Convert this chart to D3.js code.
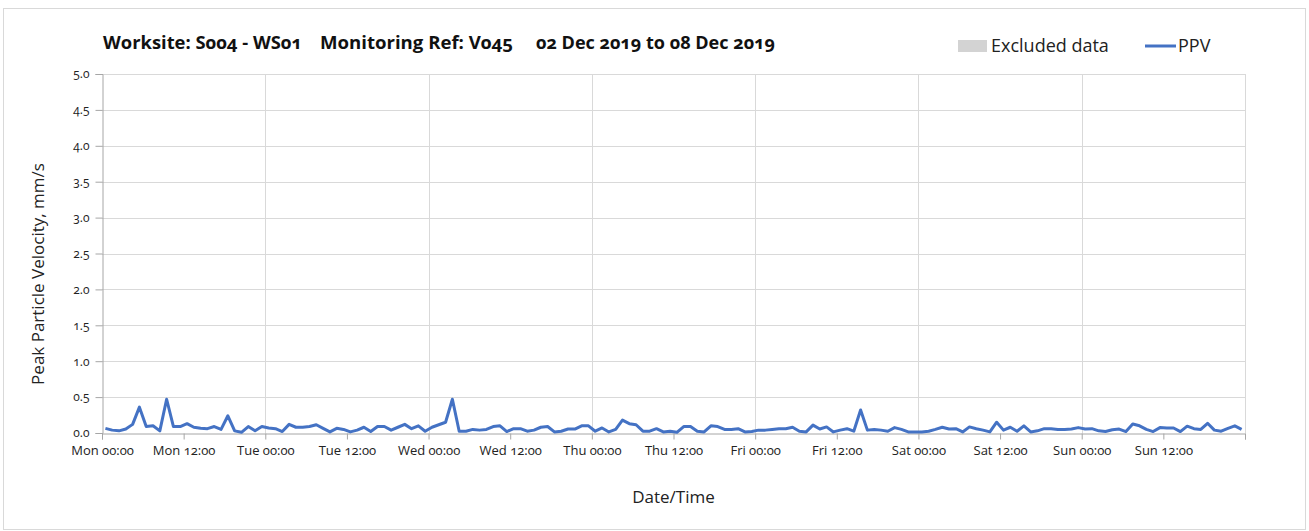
<!DOCTYPE html>
<html>
<head>
<meta charset="utf-8">
<script src="https://cdn.jsdelivr.net/npm/d3@7"></script>
<style>
  html, body { margin: 0; padding: 0; background: #fff; }
  svg { display: block; font-family: "Open Sans", "Noto Sans", sans-serif; }
  .onum { font-variant-numeric: oldstyle-nums; }
</style>
</head>
<body>
<svg id="chart" width="1309" height="531"></svg>
<script>
// ---------- data ----------
const titleParts = ["Worksite: S004 - WS01", "Monitoring Ref: V045", "02 Dec 2019 to 08 Dec 2019"];
const startTime = "2019-12-02T00:00:00Z";
const endTime = "2019-12-09T00:00:00Z";
const yTicks = [0, 0.5, 1, 1.5, 2, 2.5, 3, 3.5, 4, 4.5, 5];
const xTickLabels = ["Mon 00:00","Mon 12:00","Tue 00:00","Tue 12:00","Wed 00:00","Wed 12:00","Thu 00:00","Thu 12:00","Fri 00:00","Fri 12:00","Sat 00:00","Sat 12:00","Sun 00:00","Sun 12:00",""];
const legendLabels = ["Excluded data", "PPV"];
// hourly PPV readings (mm/s), first reading at Mon 00:30
const ppv = [
  0.065,0.04,0.03,0.055,0.12,0.36,0.09,0.10,0.03,0.47,0.09,0.09,0.13,0.08,0.065,0.06,0.09,0.05,0.24,0.03,0.01,0.09,0.03,0.09,
  0.07,0.06,0.02,0.12,0.08,0.08,0.09,0.115,0.065,0.015,0.065,0.05,0.015,0.04,0.08,0.02,0.09,0.09,0.04,0.08,0.12,0.06,0.10,0.025,
  0.08,0.115,0.15,0.47,0.025,0.025,0.05,0.04,0.05,0.09,0.10,0.02,0.06,0.06,0.025,0.04,0.08,0.09,0.015,0.025,0.055,0.055,0.10,0.10,
  0.025,0.07,0.015,0.05,0.18,0.13,0.115,0.025,0.025,0.06,0.015,0.025,0.01,0.09,0.09,0.025,0.015,0.10,0.09,0.05,0.05,0.06,0.015,0.02,
  0.04,0.04,0.05,0.06,0.06,0.08,0.025,0.015,0.11,0.055,0.085,0.015,0.04,0.06,0.025,0.32,0.04,0.05,0.04,0.025,0.075,0.05,0.015,0.015,
  0.015,0.025,0.05,0.08,0.055,0.06,0.015,0.085,0.06,0.04,0.015,0.15,0.04,0.08,0.025,0.10,0.015,0.03,0.06,0.06,0.05,0.05,0.055,0.075,
  0.055,0.06,0.03,0.02,0.045,0.055,0.02,0.125,0.10,0.05,0.02,0.075,0.07,0.07,0.02,0.095,0.06,0.05,0.135,0.04,0.025,0.065,0.10,0.05
];

// ---------- layout ----------
const svg = d3.select("#chart");
const W = 1309, H = 531;
const m = { left: 102, right: 64, top: 74, bottom: 98 };
const t0 = new Date(startTime), t1 = new Date(endTime);
const times = ppv.map((v, i) => new Date(t0.getTime() + (i + 0.5) * 3600e3));

const x = d3.scaleUtc().domain([t0, t1]).range([m.left, W - m.right]);
const y = d3.scaleLinear().domain([0, 5]).range([H - m.bottom, m.top]);

// outer border
svg.append("rect").attr("x", 3.5).attr("y", 8.5).attr("width", W - 7).attr("height", H - 10)
  .attr("fill", "#fff").attr("stroke", "#d9d9d9").attr("stroke-width", 1);

// gridlines horizontal
svg.append("g").selectAll("line").data(yTicks.filter(d => d > 0)).join("line")
  .attr("x1", x(t0)).attr("x2", x(t1))
  .attr("y1", d => Math.round(y(d)) + 0.5).attr("y2", d => Math.round(y(d)) + 0.5)
  .attr("stroke", "#d9d9d9").attr("stroke-width", 1);

// gridlines vertical (daily)
const dayTicks = d3.utcDay.range(d3.utcDay.offset(t0, 1), d3.utcDay.offset(t1, 1));
svg.append("g").selectAll("line").data(dayTicks).join("line")
  .attr("x1", d => Math.round(x(d)) + 0.5).attr("x2", d => Math.round(x(d)) + 0.5)
  .attr("y1", y(5)).attr("y2", y(0))
  .attr("stroke", "#d9d9d9").attr("stroke-width", 1);

// y axis
const yAxis = svg.append("g").attr("transform", `translate(${m.left + 0.5},0)`)
  .call(d3.axisLeft(y).tickValues(yTicks).tickFormat(d3.format(".1f")).tickSize(7).tickPadding(6));
yAxis.select(".domain").attr("stroke", "#a6a6a6");
yAxis.selectAll(".tick line").attr("stroke", "#a6a6a6");
yAxis.selectAll("text").attr("class", "onum").attr("font-size", 12).attr("fill", "#222")
  .attr("font-family", "'Open Sans', sans-serif");

// x axis
const xTicks = d3.utcHour.every(12).range(t0, d3.utcHour.offset(t1, 1));
const xAxis = svg.append("g").attr("transform", `translate(0,${Math.round(y(0)) + 0.5})`)
  .call(d3.axisBottom(x).tickValues(xTicks).tickFormat((d, i) => xTickLabels[i]).tickSize(6).tickPadding(6));
xAxis.select(".domain").attr("stroke", "#a6a6a6");
xAxis.selectAll(".tick line").attr("stroke", "#a6a6a6");
xAxis.selectAll("text").attr("class", "onum").attr("font-size", 13).attr("fill", "#222")
  .attr("font-family", "'Open Sans', sans-serif");

// line
const line = d3.line().x((d, i) => x(times[i])).y(d => y(d));
svg.append("path").datum(ppv).attr("d", line)
  .attr("fill", "none").attr("stroke", "#4472C4").attr("stroke-width", 3)
  .attr("stroke-linejoin", "round");

// title
const titleX = [103, 320, 536], titleW = [199, 193, 239];
const tt = svg.append("text").attr("class", "onum").attr("y", 49)
  .attr("font-size", 17).attr("font-weight", "bold").attr("fill", "#111");
titleParts.forEach((p, i) => {
  tt.append("tspan").attr("x", titleX[i]).attr("textLength", titleW[i])
    .attr("lengthAdjust", "spacingAndGlyphs").text(p);
});

// legend
svg.append("rect").attr("x", 958).attr("y", 40).attr("width", 29).attr("height", 12).attr("fill", "#d3d3d3");
svg.append("text").attr("x", 991).attr("y", 52).attr("font-size", 18).attr("fill", "#222").text(legendLabels[0]);
svg.append("line").attr("x1", 1145).attr("x2", 1176).attr("y1", 46).attr("y2", 46)
  .attr("stroke", "#4472C4").attr("stroke-width", 3);
svg.append("text").attr("x", 1178).attr("y", 52).attr("font-size", 18).attr("fill", "#222").text(legendLabels[1]);

// axis titles
svg.append("text").attr("transform", `translate(44,274) rotate(-90)`)
  .attr("text-anchor", "middle").attr("font-size", 17).attr("fill", "#222").text("Peak Particle Velocity, mm/s");
svg.append("text").attr("x", (x(t0) + x(t1)) / 2).attr("y", 503)
  .attr("text-anchor", "middle").attr("font-size", 17).attr("fill", "#222").text("Date/Time");
</script>
</body>
</html>
